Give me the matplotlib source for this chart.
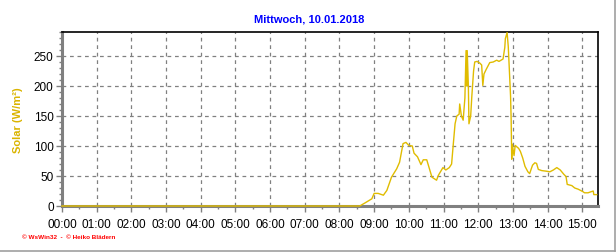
import matplotlib.pyplot as plt
from matplotlib.ticker import MultipleLocator
from matplotlib.lines import Line2D

# Solar radiation readings, Wednesday 10.01.2018
times = [
    "00:00", "08:35", "08:44", "08:56", "09:00", "09:07", "09:16", "09:22", "09:30", "09:39",
    "09:44", "09:50", "09:55", "10:00", "10:06", "10:09", "10:15", "10:21", "10:25", "10:31",
    "10:40", "10:48", "10:51", "10:59", "11:04", "11:10", "11:14", "11:17", "11:20", "11:23",
    "11:27", "11:28", "11:31", "11:34", "11:37", "11:39", "11:40", "11:41", "11:43", "11:44",
    "11:47", "11:49", "11:52", "11:54", "11:58", "12:03", "12:06", "12:08", "12:10", "12:14",
    "12:20", "12:26", "12:32", "12:36", "12:43", "12:46", "12:47", "12:50", "12:52", "12:54",
    "12:56", "12:57", "12:58", "12:59", "13:02", "13:04", "13:10", "13:13", "13:17", "13:21",
    "13:26", "13:29", "13:34", "13:38", "13:41", "13:44", "13:50", "13:58", "14:04", "14:10",
    "14:16", "14:22", "14:28", "14:32", "14:34", "14:42", "14:47", "14:53", "15:01", "15:04",
    "15:10", "15:19", "15:20", "15:25",
]
solar = [
    0, 0, 5, 12, 21, 21, 18, 26, 48, 62,
    73, 104, 106, 101, 100, 88, 82, 69, 77, 77,
    48, 43, 51, 64, 60, 64, 70, 104, 137, 150,
    153, 170, 150, 143, 180, 259, 200, 259, 200, 137,
    150, 183, 225, 240, 241, 238, 235, 201, 220, 228,
    239, 240, 243, 241, 245, 264, 279, 289, 266, 225,
    183, 145, 78, 103, 84, 101, 96, 91, 80, 66,
    57, 54, 68, 72, 71, 61, 59, 58, 57, 60,
    64, 60, 53, 49, 36, 34, 30, 28, 24, 22,
    22, 25, 19, 19,
]
hour_labels = ["%02d:00" % h for h in range(16)]

hours = [int(t[:2]) + int(t[3:]) / 60 for t in times]

W, H = 616, 253
fig = plt.figure(figsize=(W / 100, H / 100), dpi=100)
fig.patch.set_facecolor("white")
ax = fig.add_axes([62 / W, (H - 207) / H, (597.5 - 62) / W, (207 - 33) / H])

ax.plot(hours, solar, color="#E0BC00", lw=1.0, zorder=3, clip_on=False)

ax.set_xlim(0, 15.44)
ax.set_ylim(0, 290)
ax.set_xticks(range(16))
ax.set_xticklabels(hour_labels)
ax.xaxis.set_minor_locator(MultipleLocator(0.5))
ax.set_yticks([0, 50, 100, 150, 200, 250])
ax.yaxis.set_minor_locator(MultipleLocator(10))

ax.grid(True, which="major", color="#808080", linestyle=(0, (3, 3)), linewidth=0.9)
for s in ["top", "right"]:
    ax.spines[s].set_color("black")
    ax.spines[s].set_linewidth(1.2)
for s in ["left", "bottom"]:
    ax.spines[s].set_color("#808080")
    ax.spines[s].set_linewidth(2.2)

ax.tick_params(which="major", length=4, width=1, color="#808080",
               labelsize=8.5, labelcolor="black", pad=2)
ax.tick_params(which="minor", length=2, width=1, color="#808080")
ax.tick_params(axis="x", pad=5)
for lab in ax.get_xticklabels() + ax.get_yticklabels():
    lab.set_family("Liberation Sans")

ax.set_ylabel("Solar (W/m²)", color="#DAB400", fontsize=8, fontweight="bold",
              family="Liberation Sans", labelpad=8)

fig.text(309 / W, 1 - 20 / H, "Mittwoch, 10.01.2018", color="#0000FF",
         fontsize=8.0, fontweight="bold", family="Liberation Sans",
         ha="center", va="center")
fig.text(22 / W, 1 - 238 / H, "© WsWin32  -  © Heiko Blädern", color="#FF0000",
         fontsize=4.6, fontweight="bold", family="Liberation Sans",
         ha="left", va="center")

# image border on right and bottom
fig.add_artist(Line2D([0, 614.5 / W], [1.5 / H, 1.5 / H], transform=fig.transFigure,
                      color="#A0A0A0", lw=1.2))
fig.add_artist(Line2D([614.5 / W, 614.5 / W], [1.5 / H, 1], transform=fig.transFigure,
                      color="#A0A0A0", lw=1.2))

fig.savefig("out.png", dpi=100)
